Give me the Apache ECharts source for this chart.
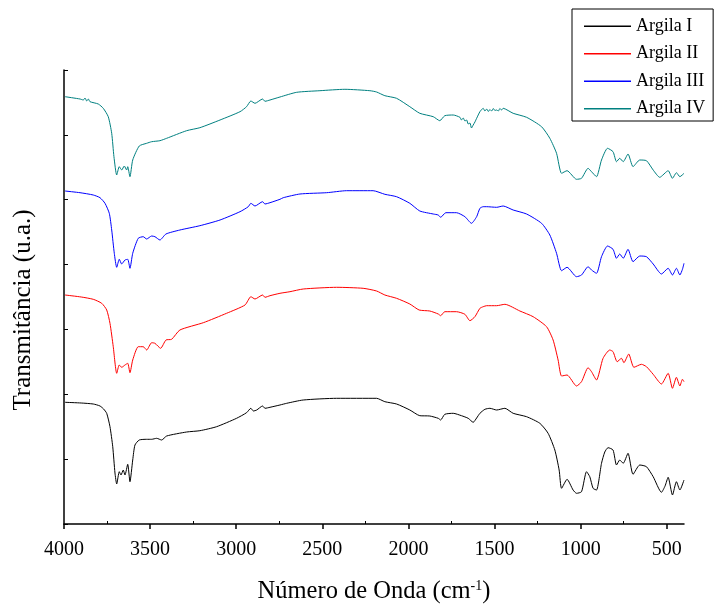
<!DOCTYPE html>
<html>
<head>
<meta charset="utf-8">
<script src="https://cdn.jsdelivr.net/npm/echarts@6/dist/echarts.min.js"></script>
<style>
html,body{margin:0;padding:0;background:#fff;}
#chart{width:718px;height:604px;}
</style>
</head>
<body>
<div id="chart"></div>
<script>
const seriesNames = ['Argila I', 'Argila II', 'Argila III', 'Argila IV'];
const majorTicks = [4000, 3500, 3000, 2500, 2000, 1500, 1000, 500];
const minorTicks = [3750, 3250, 2750, 2250, 1750, 1250, 750];

// [wavenumber (cm-1), transmittance (u.a.)]
const argilaI = [[3994,121.7],[3900,121],[3830,120],[3791,118],[3770,115],[3752,110.7],[3733,97.3],[3717,77.3],[3704,51],[3694,40],[3679,52.3],[3669,49],[3656,54],[3646,49],[3630,59.7],[3617,42.3],[3601,64],[3588,79],[3563,84],[3520,84.7],[3491,84.7],[3462,85.7],[3433,84],[3404,88],[3288,92],[3211,93.3],[3114,97.3],[2998,105.7],[2940,111.3],[2915,115.7],[2900,113],[2881,114],[2847,118],[2833,115.7],[2804,116.7],[2746,119],[2707,120.7],[2611,124],[2417,125.7],[2185,125.7],[2137,122.3],[2069,120],[1992,114],[1934,108.3],[1876,108],[1827,105.7],[1813,104],[1789,109.7],[1740,110.7],[1692,108.3],[1653,105.7],[1624,101.7],[1604,106],[1585,110.7],[1556,114.7],[1527,115.7],[1488,114],[1440,115.7],[1392,110.7],[1314,107.3],[1237,100.7],[1189,90.7],[1150,74],[1125,54],[1111,35.7],[1079,44.7],[1044,34],[1024,30.7],[995,32.3],[966,52.3],[947,47.3],[928,35.7],[908,34],[879,60.7],[860,72],[841,76.3],[812,74],[792,59],[773,64],[753,60.7],[725,70.7],[696,49.7],[657,59],[618,57.3],[579,47.3],[531,31.7],[510,38],[492,46.7],[467,29],[444,42.3],[424,34],[400,44]];

const argilaII = [[3994,229],[3900,227],[3830,224.7],[3781,220.7],[3752,214],[3733,200.7],[3714,177.3],[3694,150.7],[3679,159],[3665,156.7],[3646,159],[3630,160.7],[3617,151.3],[3601,164],[3569,177.3],[3540,177.3],[3520,174],[3491,181.3],[3472,180.7],[3439,175.7],[3408,184],[3375,184.7],[3327,194],[3191,201.3],[3056,210.7],[2949,219],[2915,227.3],[2891,225],[2847,229],[2833,226.7],[2804,228.3],[2746,230.7],[2688,232.3],[2611,235],[2417,236.7],[2263,235.7],[2185,233],[2137,229],[2069,225.7],[1992,220],[1938,214],[1876,213],[1827,210],[1813,208.3],[1789,212.3],[1721,212.3],[1672,209.7],[1643,203.3],[1614,207.3],[1585,215.7],[1566,217.3],[1546,218.3],[1488,218.3],[1440,219.7],[1353,213],[1276,207.3],[1198,197.3],[1160,184],[1131,164],[1111,148],[1079,149],[1024,138],[995,142.3],[957,156.3],[937,152.3],[908,144],[870,165.7],[831,174],[812,172.3],[788,162.3],[763,165.7],[749,161.3],[721,170],[691,156.7],[647,159.7],[618,157.3],[579,149.7],[531,140],[492,150.7],[467,135.7],[444,146.7],[424,138],[409,144.7],[400,142.3]];

const argilaIII = [[3994,333],[3907,331.3],[3830,329],[3791,326.3],[3762,320.7],[3737,310.7],[3723,294],[3708,270.7],[3694,256.7],[3679,264.7],[3665,260],[3646,264],[3630,264.7],[3617,255.7],[3601,270.7],[3569,285.7],[3540,287.3],[3520,285],[3491,288],[3472,287.3],[3443,284],[3408,290],[3327,294],[3211,298.3],[3094,304],[2978,312.3],[2930,317.3],[2915,320.7],[2891,318],[2847,322.3],[2833,320],[2804,321.3],[2746,324.7],[2727,326.3],[2630,330],[2475,331.3],[2359,333.3],[2205,333.3],[2137,329.7],[2069,327.3],[1992,320.7],[1934,313],[1856,310],[1827,309],[1813,306.7],[1783,311.3],[1721,311.3],[1672,307.3],[1634,300.7],[1604,307.3],[1585,315.7],[1566,317.3],[1546,317.3],[1488,316.7],[1450,318],[1392,314],[1314,310],[1227,300.7],[1179,289],[1140,270.7],[1111,253.3],[1079,256.7],[1024,247.3],[995,249],[957,257.3],[937,254],[908,250.7],[879,267.3],[844,278],[812,274.7],[792,265.7],[773,270],[753,265.7],[725,274.7],[696,262.3],[657,268],[618,267.3],[579,260],[531,250],[492,255.7],[467,249],[444,255.7],[424,249],[409,254.7],[400,260.7]];

const argilaIV = [[3994,427.3],[3907,425],[3888,424],[3878,426],[3868,423],[3859,425],[3849,422.3],[3801,420],[3772,415.7],[3743,407.3],[3723,390.7],[3710,367.3],[3694,349],[3679,357.3],[3665,354],[3650,358],[3636,354],[3630,357.3],[3617,347.3],[3601,364],[3563,378],[3520,380.7],[3491,382.3],[3443,383.3],[3404,385.7],[3288,393.3],[3211,396.3],[3094,404],[2978,412.3],[2940,417.3],[2915,423],[2891,420.7],[2847,425],[2833,422.7],[2804,424],[2746,427],[2649,431.7],[2514,433.3],[2369,434.7],[2224,433.3],[2185,432],[2137,428.3],[2069,425.7],[1992,417.3],[1934,410.7],[1856,407.3],[1818,403.3],[1789,408.3],[1740,409],[1701,406.7],[1692,404],[1682,406],[1672,403],[1662,404],[1653,400],[1643,401],[1634,396],[1624,399],[1614,402],[1604,405.7],[1585,412.3],[1566,415.7],[1556,413],[1546,415],[1536,412.5],[1527,414.5],[1517,413],[1507,415.5],[1498,413.5],[1488,414],[1478,413],[1469,415.5],[1459,414],[1450,415.7],[1392,410.7],[1314,406.7],[1227,397.3],[1179,385.7],[1140,370.7],[1111,350.7],[1079,353.3],[1024,344.7],[995,345.7],[957,355.7],[937,352.3],[908,347.3],[879,364],[844,375.7],[812,372.3],[792,362.3],[773,365.7],[753,362.3],[725,370],[696,357.3],[657,364],[618,363.3],[579,354],[541,346.7],[492,353.3],[467,345.7],[444,351.3],[424,347.3],[400,350.7]];

const seriesData = [argilaI, argilaII, argilaIII, argilaIV];
const colors = ['#000000', '#ff0000', '#0000ff', '#008080'];

const FONT = 'Liberation Serif, Times New Roman, serif';
const chart = echarts.init(document.getElementById('chart'), null, {renderer: 'canvas'});

const option = {
  animation: false,
  backgroundColor: '#ffffff',
  grid: {left: 64, right: 34, top: 70, bottom: 80, containLabel: false, outerBoundsMode: 'none'},
  legend: {
    data: seriesNames.map(n => ({name: n, icon: 'rect'})),
    orient: 'vertical',
    left: 572,
    top: 9,
    padding: [8, 8, 3, 12],
    itemWidth: 47,
    itemHeight: 1.4,
    itemGap: 9,
    borderColor: '#000',
    borderWidth: 1,
    textStyle: {fontFamily: FONT, fontSize: 18, color: '#000', lineHeight: 18.5}
  },
  xAxis: [{
    type: 'value',
    min: 400,
    max: 4000,
    inverse: true,
    position: 'bottom',
    axisLine: {show: true, onZero: false, lineStyle: {color: '#000', width: 1.5}},
    axisTick: {show: true, customValues: majorTicks, inside: false, length: 5, lineStyle: {color: '#000', width: 1.5}},
    axisLabel: {show: true, customValues: majorTicks, margin: 16, fontFamily: FONT, fontSize: 20, color: '#000',
      formatter: v => String(v)},
    splitLine: {show: false},
    name: '{n|Número de Onda (cm}{sup|-1}{n|)}',
    nameLocation: 'middle',
    nameGap: 55,
    nameTextStyle: {
      color: '#000',
      rich: {
        n: {fontFamily: FONT, fontSize: 24.5, color: '#000'},
        sup: {fontFamily: FONT, fontSize: 14, color: '#000', padding: [0, 0, 11, 0]}
      }
    }
  }, {
    type: 'value',
    min: 400,
    max: 4000,
    inverse: true,
    position: 'bottom',
    axisLine: {show: false, onZero: false},
    axisTick: {show: true, customValues: minorTicks, inside: true, length: 3, lineStyle: {color: '#000', width: 1}},
    axisLabel: {show: false},
    splitLine: {show: false}
  }],
  yAxis: {
    type: 'value',
    min: 0,
    max: 454,
    interval: 454 / 7,
    axisLine: {show: true, lineStyle: {color: '#000', width: 1.5}},
    axisTick: {show: true, inside: true, length: 4, lineStyle: {color: '#000', width: 1}},
    axisLabel: {show: false},
    splitLine: {show: false}
  },
  graphic: [{
    type: 'text',
    x: 23,
    y: 310,
    rotation: Math.PI / 2,
    style: {
      text: 'Transmitância (u.a.)',
      font: '25px ' + FONT,
      fill: '#000',
      textAlign: 'center',
      textVerticalAlign: 'middle'
    }
  }],
  series: seriesNames.map((name, i) => ({
    name: name,
    type: 'line',
    xAxisIndex: 0,
    data: seriesData[i],
    symbol: 'none',
    showSymbol: false,
    smooth: 0.2,
    color: colors[i],
    lineStyle: {color: colors[i], width: 1}
  }))
};
chart.setOption(option);
</script>
</body>
</html>
